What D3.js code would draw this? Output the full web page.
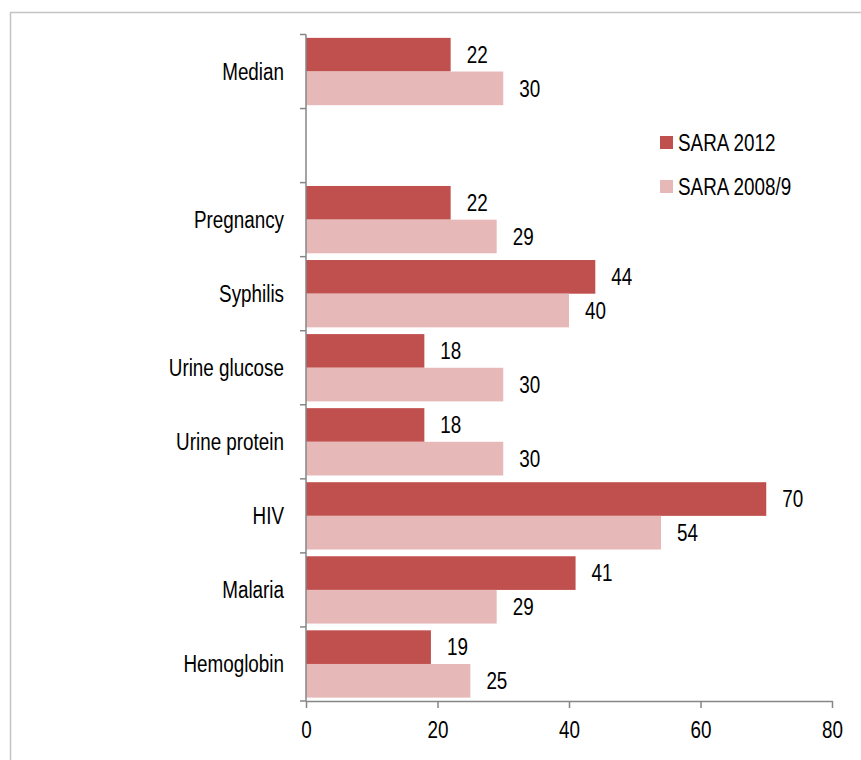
<!DOCTYPE html>
<html>
<head>
<meta charset="utf-8">
<script src="https://cdn.jsdelivr.net/npm/d3@7"></script>
<style>
  html, body { margin: 0; padding: 0; background: #fff; }
  svg { display: block; }
  text { font-family: "Liberation Sans", Arial, sans-serif; fill: #000; }
</style>
</head>
<body>
<svg id="chart" width="861" height="760"></svg>
<script>
const categories = ["Median", "", "Pregnancy", "Syphilis", "Urine glucose", "Urine protein", "HIV", "Malaria", "Hemoglobin"];
const seriesNames = ["SARA 2012", "SARA 2008/9"];
const sara2012 = [22, null, 22, 44, 18, 18, 70, 41, 19];
const sara2008 = [30, null, 29, 40, 30, 30, 54, 29, 25];
const xTicks = [0, 20, 40, 60, 80];
const colors = ["#c0504d", "#e6b9b8"];

(function () {
const svg = d3.select("#chart");
const fontSize = 23;
const narrow = 0.82; // horizontal condensing to mimic a narrow typeface

function addText(parent, tx, ty, str, anchor) {
  return parent.append("text")
    .attr("transform", `translate(${tx},${ty}) scale(${narrow},1)`)
    .attr("text-anchor", anchor || "start")
    .attr("dy", "0.36em")
    .attr("font-size", fontSize)
    .text(str);
}

// outer border
svg.append("rect").attr("x", 10.5).attr("y", 12.5).attr("width", 870).attr("height", 800)
  .attr("fill", "none").attr("stroke", "#c4c4c4").attr("stroke-width", 1.5);

const pLeft = 306, pRight = 832, pTop = 34.5, pBottom = 701;
const keys = categories.map((c, i) => "k" + i);
const y = d3.scaleBand().domain(keys).range([pTop, pBottom]).paddingInner(0).paddingOuter(0);
const x = d3.scaleLinear().domain([0, 80]).range([pLeft, pRight]);
const ySub = d3.scaleBand().domain([0, 1]).range([0, y.bandwidth()]).paddingInner(0).paddingOuter(0.1);

const rows = categories.map((c, i) => ({ key: keys[i], name: c, vals: [sara2012[i], sara2008[i]] }));

// bars
const g = svg.append("g");
rows.forEach(r => {
  r.vals.forEach((v, s) => {
    if (v == null) return;
    g.append("rect")
      .attr("x", x(0))
      .attr("y", y(r.key) + ySub(s))
      .attr("width", x(v) - x(0))
      .attr("height", ySub.bandwidth())
      .attr("fill", colors[s]);
    addText(g, x(v) + 16, y(r.key) + ySub(s) + ySub.bandwidth() / 2, v, "start");
  });
});

const axisColor = "#868686";

// y axis
const yAxisG = svg.append("g").attr("transform", `translate(${pLeft},0)`);
yAxisG.append("line").attr("x1", 0).attr("x2", 0).attr("y1", pTop).attr("y2", pBottom)
  .attr("stroke", axisColor).attr("stroke-width", 1.5);
const boundaries = keys.map(k => y(k)).concat([pBottom]);
yAxisG.selectAll("line.tick").data(boundaries).join("line").attr("class", "tick")
  .attr("x1", -6).attr("x2", 0).attr("y1", d => d).attr("y2", d => d)
  .attr("stroke", axisColor).attr("stroke-width", 1.5);
rows.forEach(r => {
  if (r.name) addText(yAxisG, -22, y(r.key) + y.bandwidth() / 2, r.name, "end");
});

// x axis
const xAxis = d3.axisBottom(x).tickValues(xTicks).tickSize(7).tickPadding(14).tickSizeOuter(0);
const xAxisG = svg.append("g").attr("transform", `translate(0,${pBottom})`).call(xAxis);
xAxisG.select(".domain").attr("stroke", axisColor).attr("stroke-width", 1.5);
xAxisG.selectAll(".tick line").attr("stroke", axisColor).attr("stroke-width", 1.5);
xAxisG.selectAll(".tick text").attr("font-size", fontSize).attr("fill", "#000")
  .attr("transform", `scale(${narrow},1)`)
  .style("font-family", '"Liberation Sans", Arial, sans-serif');

// legend
const legend = svg.append("g");
seriesNames.forEach((n, i) => {
  const ly = 142.5 + i * 44;
  legend.append("rect").attr("x", 660).attr("y", ly - 6.5).attr("width", 13).attr("height", 13).attr("fill", colors[i]);
  addText(legend, 678, ly, n, "start");
});
})();
</script>
</body>
</html>
